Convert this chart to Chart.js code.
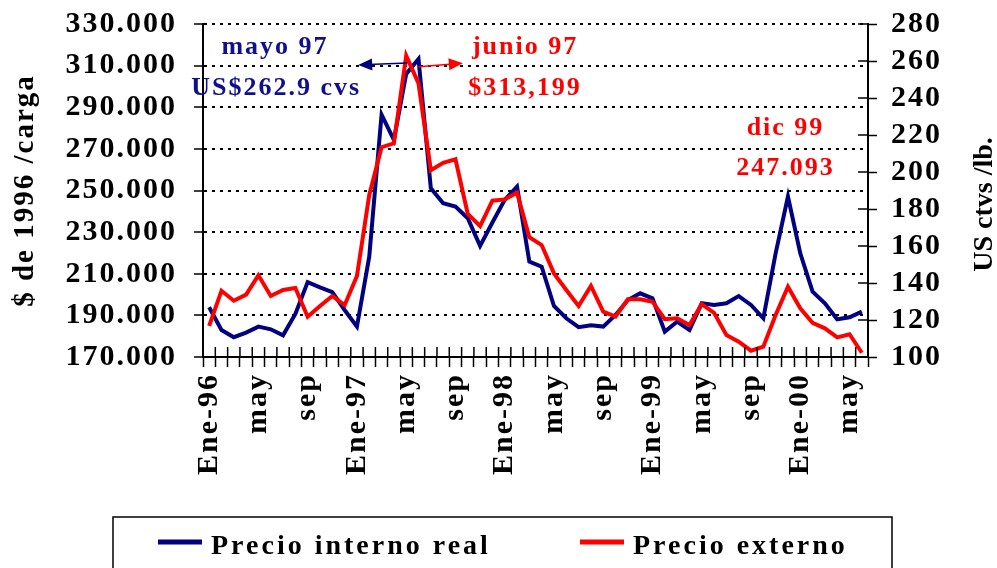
<!DOCTYPE html>
<html>
<head>
<meta charset="utf-8">
<script src="https://cdn.jsdelivr.net/npm/chart.js@4/dist/chart.umd.min.js"></script>
<style>
  html, body { margin: 0; padding: 0; background: #fff; }
  #wrap { width: 997px; height: 568px; position: relative; }
</style>
</head>
<body>
<div id="wrap"><canvas id="chart-precios"></canvas></div>
<script>
// Meses (ene-96 a jun-00)
const meses = [
	"Ene-96","feb","mar","abr","may","jun","jul","ago","sep","oct","nov","dic",
	"Ene-97","feb","mar","abr","may","jun","jul","ago","sep","oct","nov","dic",
	"Ene-98","feb","mar","abr","may","jun","jul","ago","sep","oct","nov","dic",
	"Ene-99","feb","mar","abr","may","jun","jul","ago","sep","oct","nov","dic",
	"Ene-00","feb","mar","abr","may","jun"
];

// Precio interno real ($ de 1996 / carga)
const precioInterno = [
	193900, 183000, 179500, 181700, 184600, 183300, 180400, 190700, 206000, 203500, 201200, 192600,
	184600, 218200, 286500, 274300, 306000, 313199, 251100, 243900, 242300, 236700, 223400, 234600,
	245500, 251900, 215800, 213400, 194500, 188600, 184300, 185200, 184600, 190200, 197400, 200600,
	198200, 182200, 187000, 183000, 195800, 195000, 195800, 199300, 195000, 188600, 219800, 247093,
	219800, 201400, 195800, 188100, 189100, 191800
];

// Precio externo (US ctvs / lb.)
const precioExterno = [
	116.8, 135.8, 130.4, 133.7, 144.2, 133.0, 136.2, 137.3, 121.8, 127.6, 133.0, 128.0,
	143.8, 187.6, 213.4, 215.5, 262.9, 247.9, 201.0, 205.0, 206.9, 177.3, 170.8, 184.5,
	185.2, 188.8, 164.7, 160.5, 145.2, 136.2, 127.6, 138.4, 124.5, 121.8, 131.2, 131.2,
	129.9, 120.4, 120.9, 117.3, 128.6, 123.9, 111.9, 108.3, 103.4, 105.6, 122.7, 138.0,
	126.3, 118.5, 115.5, 110.6, 112.3, 102.3
];

// Textos de anotacion (posicion en unidades de los ejes: indice de mes, valor eje izq.)
const notas = [
	{ texto: "mayo 97", x: 5.35, y: 318600, color: "#10108a" },
	{ texto: "US$262.9 cvs", x: 5.45, y: 299300, color: "#10108a" },
	{ texto: "junio 97", x: 25.65, y: 318600, color: "#ff0000" },
	{ texto: "$313,199", x: 25.65, y: 299300, color: "#ff0000" },
	{ texto: "dic 99", x: 46.8, y: 280100, color: "#ff0000" },
	{ texto: "247.093", x: 46.8, y: 260900, color: "#ff0000" }
];
const flechas = [
	{ desde: [16.1, 311300], hasta: [12.1, 310300], color: "#000080" },
	{ desde: [17.0, 309500], hasta: [20.6, 311200], color: "#ff0000" }
];

const FUENTE = "'Liberation Serif', 'Times New Roman', serif";

const espaciado = {
	id: "espaciado",
	beforeLayout(chart) { chart.ctx.letterSpacing = "2px"; },
	beforeDraw(chart) { chart.ctx.letterSpacing = "2px"; }
};

// sin relleno extra arriba/abajo en los ejes verticales
const sinRelleno = s => { s.paddingTop = 0; s.paddingBottom = 0; };

const extras = {
	id: "extras",
	afterDraw(chart) {
		const ctx = chart.ctx;
		const xs = chart.scales.x, ys = chart.scales.y, ys1 = chart.scales.y1;
		const area = chart.chartArea;
		ctx.save();
		// marcas interiores (cruzan el eje)
		ctx.strokeStyle = "#000";
		ctx.lineWidth = 1.5;
		ctx.beginPath();
		for (let i = 0; i <= meses.length; i++) {
			const px = xs.getPixelForValue(i - 0.5);
			ctx.moveTo(px, area.bottom - 10);
			ctx.lineTo(px, area.bottom);
		}
		ys1.ticks.forEach((t, i) => {
			const py = ys1.getPixelForTick(i);
			ctx.moveTo(area.right - 10, py);
			ctx.lineTo(area.right, py);
		});
		ctx.stroke();

		// anotaciones
		ctx.font = "bold 26px " + FUENTE;
		ctx.letterSpacing = "2px";
		ctx.textAlign = "center";
		ctx.textBaseline = "middle";
		notas.forEach(n => {
			ctx.fillStyle = n.color;
			ctx.fillText(n.texto, xs.getPixelForValue(n.x), ys.getPixelForValue(n.y));
		});
		// flechas
		flechas.forEach(f => {
			const x1 = xs.getPixelForValue(f.desde[0]), y1 = ys.getPixelForValue(f.desde[1]);
			const x2 = xs.getPixelForValue(f.hasta[0]), y2 = ys.getPixelForValue(f.hasta[1]);
			const ang = Math.atan2(y2 - y1, x2 - x1);
			ctx.strokeStyle = f.color;
			ctx.fillStyle = f.color;
			ctx.lineWidth = 1.5;
			ctx.beginPath();
			ctx.moveTo(x1, y1);
			ctx.lineTo(x2 - 10 * Math.cos(ang), y2 - 10 * Math.sin(ang));
			ctx.stroke();
			ctx.beginPath();
			ctx.moveTo(x2, y2);
			ctx.lineTo(x2 - 14 * Math.cos(ang) + 6 * Math.sin(ang), y2 - 14 * Math.sin(ang) - 6 * Math.cos(ang));
			ctx.lineTo(x2 - 14 * Math.cos(ang) - 6 * Math.sin(ang), y2 - 14 * Math.sin(ang) + 6 * Math.cos(ang));
			ctx.closePath();
			ctx.fill();
		});
		// titulo eje derecho (leido de abajo hacia arriba)
		ctx.translate(985, (area.top + area.bottom) / 2 + 14);
		ctx.rotate(-Math.PI / 2);
		ctx.fillStyle = "#000";
		ctx.font = "bold 28px " + FUENTE;
		ctx.letterSpacing = "0px";
		ctx.fillText("US ctvs /lb.", 0, 0);
		ctx.restore();

		// leyenda con recuadro
		ctx.save();
		ctx.strokeStyle = "#000";
		ctx.lineWidth = 1.5;
		ctx.strokeRect(113, 517, 779, 60);
		ctx.font = "bold 28px " + FUENTE;
		ctx.letterSpacing = "3px";
		ctx.textBaseline = "alphabetic";
		ctx.textAlign = "left";
		const posLeyenda = [158, 580];
		chart.data.datasets.forEach((ds, i) => {
			const x0 = posLeyenda[i];
			ctx.strokeStyle = ds.borderColor;
			ctx.lineWidth = 5;
			ctx.beginPath();
			ctx.moveTo(x0, 542);
			ctx.lineTo(x0 + 44, 542);
			ctx.stroke();
			ctx.fillStyle = "#000";
			ctx.fillText(ds.label, x0 + 53, 554);
		});
		ctx.restore();
	}
};

const ctx1 = document.getElementById("chart-precios").getContext("2d");
let graficoPrecios = new Chart(ctx1, {
	type: "line",
	data: {
		labels: meses,
		datasets: [
			{
				label: "Precio interno real",
				data: precioInterno,
				borderColor: "#000080",
				backgroundColor: "#000080",
				borderWidth: 4,
				pointRadius: 0,
				tension: 0,
				yAxisID: "y",
				order: 1
			},
			{
				label: "Precio externo",
				data: precioExterno,
				borderColor: "#ff0000",
				backgroundColor: "#ff0000",
				borderWidth: 4,
				pointRadius: 0,
				tension: 0,
				yAxisID: "y1",
				order: 0
			}
		]
	},
	options: {
		responsive: true,
		maintainAspectRatio: false,
		animation: false,
		layout: { padding: { top: 24, left: 0, right: 0, bottom: 0 } },
		plugins: {
			legend: { display: false },
			tooltip: { enabled: false }
		},
		scales: {
			x: {
				offset: true,
				afterFit: s => { s.height = 211; },
				grid: {
					offset: true,
					drawOnChartArea: false,
					drawTicks: true,
					tickLength: 10,
					tickColor: "#000",
					tickWidth: 1.5
				},
				border: { display: true, color: "#000", width: 2 },
				ticks: {
					autoSkip: false,
					minRotation: 90,
					maxRotation: 90,
					padding: 6,
					color: "#000",
					font: { family: FUENTE, size: 30, weight: "bold" },
					callback: function (v, i) { return i % 4 === 0 ? meses[i] : ""; }
				}
			},
			y: {
				position: "left",
				min: 170000,
				max: 330000,
				afterFit: s => { s.width = 203; sinRelleno(s); },
				grid: {
					color: "#000",
					lineWidth: 2,
					drawTicks: true,
					tickLength: 9,
					tickColor: "#000",
					tickWidth: 1.5
				},
				border: { display: true, color: "#000", width: 2, dash: [3, 5] },
				ticks: {
					autoSkip: false,
					stepSize: 20000,
					padding: 17,
					color: "#000",
					font: { family: FUENTE, size: 30, weight: "bold" },
					callback: v => Math.round(v / 1000) + ".000"
				},
				title: {
					display: true,
					text: "$ de 1996 /carga",
					color: "#000",
					padding: { top: 8, bottom: 0 },
					font: { family: FUENTE, size: 29, weight: "bold" }
				}
			},
			y1: {
				position: "right",
				min: 100,
				max: 280,
				afterFit: s => { s.width = 129; sinRelleno(s); },
				grid: {
					drawOnChartArea: false,
					drawTicks: true,
					tickLength: 9,
					tickColor: "#000",
					tickWidth: 1.5
				},
				border: { display: true, color: "#000", width: 2 },
				ticks: {
					autoSkip: false,
					stepSize: 20,
					padding: 14,
					color: "#000",
					font: { family: FUENTE, size: 30, weight: "bold" }
				}
			}
		}
	},
	plugins: [espaciado, extras]
});
</script>
</body>
</html>
